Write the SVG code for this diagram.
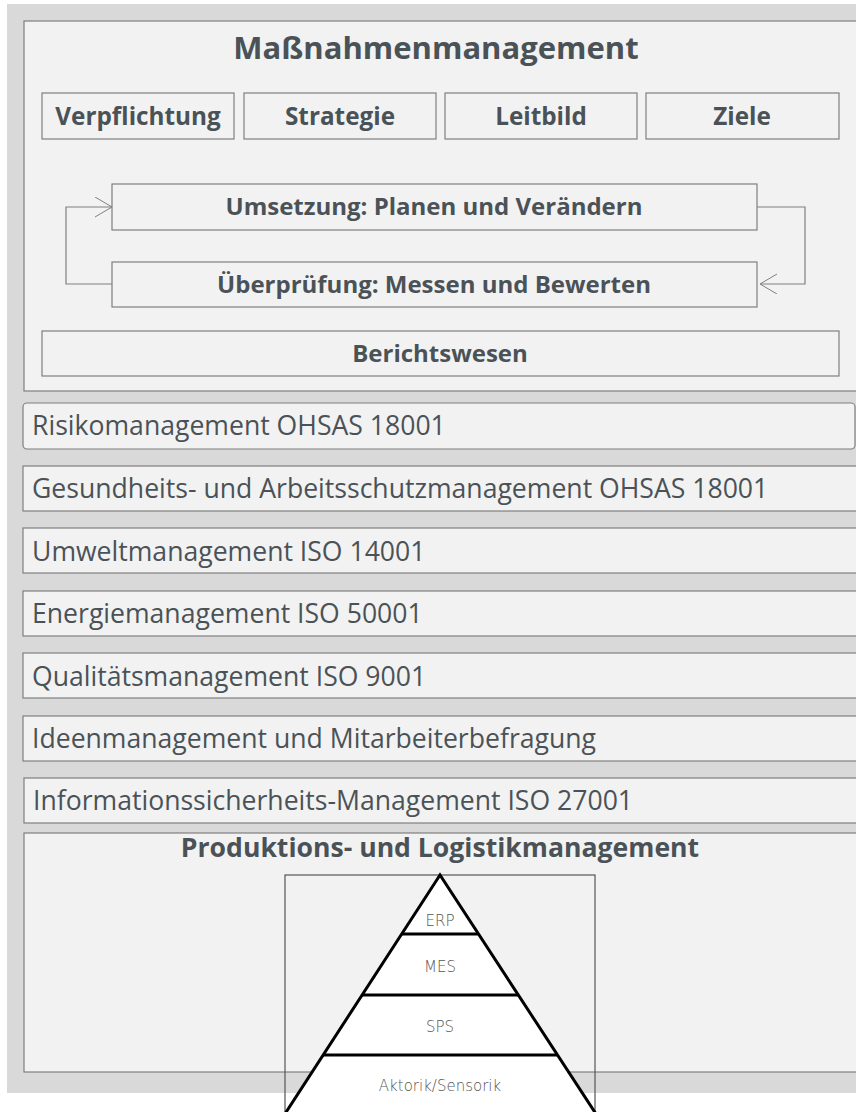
<svg xmlns="http://www.w3.org/2000/svg" width="856" height="1112" viewBox="0 0 856 1112">
<defs>
<style>
.panel{fill:#f2f2f2;stroke:#7f7f7f;stroke-width:1.2}
.b{font-family:"Open Sans","DejaVu Sans",sans-serif;font-weight:700;fill:#4b5257;text-anchor:middle}
.r{font-family:"Open Sans","DejaVu Sans",sans-serif;font-weight:400;fill:#4b5257;font-size:26.6px}
.py{font-family:"DejaVu Sans",Lato,sans-serif;font-weight:200;fill:#555;font-size:15px;text-anchor:middle}
.conn{fill:none;stroke:#808080;stroke-width:1.2}
.pl{stroke:#000;stroke-width:3}
</style>
<marker id="arr" markerUnits="userSpaceOnUse" markerWidth="20" markerHeight="22" refX="17" refY="10" orient="auto">
<path d="M0,0 L17,10 L0,20" fill="none" stroke="#808080" stroke-width="1"/>
</marker>
</defs>
<rect x="7" y="4" width="860" height="1089" fill="#d9d9d9"/>

<g id="massnahmen">
<rect class="panel" x="24" y="21" width="840" height="370"/>
<text class="b" x="436" y="59" font-size="31">Maßnahmenmanagement</text>
</g>
<g id="verpflichtung"><rect class="panel" x="42" y="93" width="192" height="46"/><text class="b" x="138" y="125" font-size="24.3">Verpflichtung</text></g>
<g id="strategie"><rect class="panel" x="244" y="93" width="192" height="46"/><text class="b" x="340" y="125" font-size="24.3">Strategie</text></g>
<g id="leitbild"><rect class="panel" x="445" y="93" width="192" height="46"/><text class="b" x="541" y="125" font-size="24.3">Leitbild</text></g>
<g id="ziele"><rect class="panel" x="646" y="93" width="193" height="46"/><text class="b" x="742" y="125" font-size="24.3">Ziele</text></g>
<g id="umsetzung"><rect class="panel" x="112" y="184" width="645" height="46"/><text class="b" x="434" y="215" font-size="24">Umsetzung: Planen und Verändern</text></g>
<g id="ueberpruefung"><rect class="panel" x="112" y="262" width="645" height="45"/><text class="b" x="434" y="293" font-size="24">Überprüfung: Messen und Bewerten</text></g>
<g id="berichtswesen"><rect class="panel" x="42" y="331" width="797" height="45"/><text class="b" x="440" y="362" font-size="24">Berichtswesen</text></g>

<g id="connectors">
<polyline class="conn" points="112,284 66,284 66,207 112,207" marker-end="url(#arr)"/>
<polyline class="conn" points="757,207 805,207 805,284 760,284" marker-end="url(#arr)"/>
</g>

<g id="risiko"><rect class="panel" x="23" y="403" width="832" height="46" rx="4"/><text class="r" x="32" y="435">Risikomanagement OHSAS 18001</text></g>
<g id="gesundheit"><rect class="panel" x="23" y="466" width="840" height="45"/><text class="r" x="32" y="498">Gesundheits- und Arbeitsschutzmanagement OHSAS 18001</text></g>
<g id="umwelt"><rect class="panel" x="23" y="528" width="840" height="45"/><text class="r" x="32" y="561">Umweltmanagement ISO 14001</text></g>
<g id="energie"><rect class="panel" x="23" y="591" width="840" height="45"/><text class="r" x="32" y="623">Energiemanagement ISO 50001</text></g>
<g id="qualitaet"><rect class="panel" x="23" y="653" width="840" height="45"/><text class="r" x="32" y="686">Qualitätsmanagement ISO 9001</text></g>
<g id="ideen"><rect class="panel" x="23" y="716" width="840" height="45"/><text class="r" x="32" y="748">Ideenmanagement und Mitarbeiterbefragung</text></g>
<g id="informationssicherheit"><rect class="panel" x="24" y="778" width="840" height="45"/><text class="r" x="33" y="810">Informationssicherheits-Management ISO 27001</text></g>

<g id="produktion">
<rect class="panel" x="24" y="833" width="840" height="239"/>
<text class="b" x="440" y="857" font-size="26.6">Produktions- und Logistikmanagement</text>
</g>

<g id="pyramide">
<rect x="285" y="875" width="310" height="260" fill="none" stroke="#555" stroke-width="1.2"/>
<polygon points="440,875 268,1140 613,1140" fill="#fff" stroke="#000" stroke-width="3" stroke-linejoin="miter"/>
<line class="pl" x1="402" y1="934" x2="478" y2="934"/>
<line class="pl" x1="362" y1="995" x2="518" y2="995"/>
<line class="pl" x1="323" y1="1055" x2="557" y2="1055"/>
<text class="py" x="440" y="926">ERP</text>
<text class="py" x="440" y="972">MES</text>
<text class="py" x="440" y="1032">SPS</text>
<text class="py" x="440" y="1091">Aktorik/Sensorik</text>
</g>
</svg>
